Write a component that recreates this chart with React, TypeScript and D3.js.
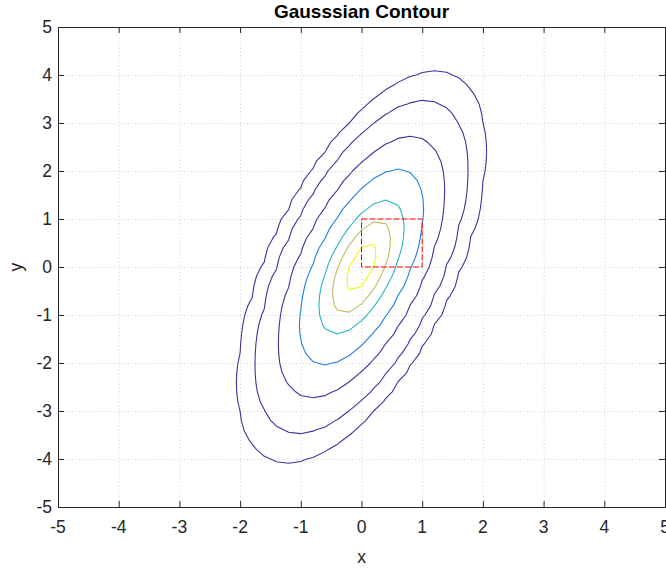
import React from "react";
import * as d3 from "d3";

// Bivariate normal distribution evaluated on a regular grid
const MU = [0, 0];
const SIGMA = [
  [0.25, 0.3],
  [0.3, 1],
];
const GRID_MIN = -5;
const GRID_MAX = 5;
const GRID_STEP = 0.2;

// Contour levels of the density and their line colours
const LEVELS = [0.0001, 0.001, 0.01, 0.05, 0.15, 0.25, 0.35];
const LEVEL_COLORS = ["#3d3399", "#3d3399", "#3d3399", "#1f80e3", "#22b6bb", "#c4bb5f", "#f6f312"];

// Unit square marked on the plot
const RECT_X = [0, 1];
const RECT_Y = [0, 1];

const X_TICKS = [-5, -4, -3, -2, -1, 0, 1, 2, 3, 4, 5];
const Y_TICKS = [-5, -4, -3, -2, -1, 0, 1, 2, 3, 4, 5];

const W = 666;
const H = 569;
const M = { left: 58, right: 665, top: 27, bottom: 507 };
const FONT = "'Liberation Sans', Arial, Helvetica, sans-serif";
const AXIS_COLOR = "#262626";

function mvnpdf(x: number, y: number): number {
  const [[a, b], [c, d]] = SIGMA;
  const det = a * d - b * c;
  const dx = x - MU[0];
  const dy = y - MU[1];
  const q = (d * dx * dx - (b + c) * dx * dy + a * dy * dy) / det;
  return Math.exp(-q / 2) / (2 * Math.PI * Math.sqrt(det));
}

export default function App() {
  const xScale = d3.scaleLinear().domain([-5, 5]).range([M.left, M.right]);
  const yScale = d3.scaleLinear().domain([-5, 5]).range([M.bottom, M.top]);

  const n = Math.round((GRID_MAX - GRID_MIN) / GRID_STEP) + 1;
  const values: number[] = new Array(n * n);
  for (let j = 0; j < n; j++) {
    for (let i = 0; i < n; i++) {
      values[j * n + i] = mvnpdf(GRID_MIN + i * GRID_STEP, GRID_MIN + j * GRID_STEP);
    }
  }
  const contours = d3.contours().size([n, n]).thresholds(LEVELS)(values);

  // grid coordinate c corresponds to sample index c - 0.5
  const toX = (c: number) => GRID_MIN + (c - 0.5) * GRID_STEP;
  const projection = d3.geoTransform({
    point(px: number, py: number) {
      (this as any).stream.point(xScale(toX(px)), yScale(toX(py)));
    },
  });
  const path = d3.geoPath(projection as any);

  const innerW = M.right - M.left;
  const innerH = M.bottom - M.top;
  const tick = 6;

  return (
    <svg
      width={W}
      height={H}
      style={{ position: "absolute", left: 0, top: 0, background: "#fff" }}
      fontFamily={FONT}
    >
      <rect x={0} y={0} width={W} height={H} fill="#fff" />
      {/* grid */}
      <g stroke="#d0d0d0" strokeWidth={1} strokeDasharray="1,2.5">
        {X_TICKS.slice(1, -1).map((t) => (
          <line key={"gx" + t} x1={xScale(t) + 0.5} x2={xScale(t) + 0.5} y1={M.top} y2={M.bottom} />
        ))}
        {Y_TICKS.slice(1, -1).map((t) => (
          <line key={"gy" + t} x1={M.left} x2={M.right} y1={yScale(t) + 0.5} y2={yScale(t) + 0.5} />
        ))}
      </g>

      {/* density contours */}
      <g fill="none" strokeWidth={1.1} strokeLinejoin="round">
        {contours.map((c, k) => (
          <path key={k} d={path(c as any) || ""} stroke={LEVEL_COLORS[k]} />
        ))}
      </g>

      {/* unit square */}
      <rect
        x={xScale(RECT_X[0])}
        y={yScale(RECT_Y[1])}
        width={xScale(RECT_X[1]) - xScale(RECT_X[0])}
        height={yScale(RECT_Y[0]) - yScale(RECT_Y[1])}
        fill="none"
        stroke="#ff0000"
        strokeWidth={1}
        strokeDasharray="6,2"
      />

      {/* axes box */}
      <rect x={M.left + 0.5} y={M.top + 0.5} width={innerW} height={innerH} fill="none" stroke={AXIS_COLOR} strokeWidth={1} />
      <g stroke={AXIS_COLOR} strokeWidth={1}>
        {X_TICKS.map((t) => (
          <g key={"tx" + t}>
            <line x1={xScale(t) + 0.5} x2={xScale(t) + 0.5} y1={M.bottom} y2={M.bottom - tick} />
            <line x1={xScale(t) + 0.5} x2={xScale(t) + 0.5} y1={M.top} y2={M.top + tick} />
          </g>
        ))}
        {Y_TICKS.map((t) => (
          <g key={"ty" + t}>
            <line x1={M.left} x2={M.left + tick} y1={yScale(t) + 0.5} y2={yScale(t) + 0.5} />
            <line x1={M.right} x2={M.right - tick} y1={yScale(t) + 0.5} y2={yScale(t) + 0.5} />
          </g>
        ))}
      </g>

      <g fill={AXIS_COLOR} fontSize={17.5}>
        {X_TICKS.map((t) => (
          <text key={"lx" + t} x={xScale(t)} y={M.bottom + 26} textAnchor="middle">
            {t}
          </text>
        ))}
        {Y_TICKS.map((t) => (
          <text key={"ly" + t} x={M.left - 6} y={yScale(t) + 6} textAnchor="end">
            {t}
          </text>
        ))}
        <text x={(M.left + M.right) / 2} y={H - 6} textAnchor="middle">
          x
        </text>
        <text transform={`translate(22, ${(M.top + M.bottom) / 2}) rotate(-90)`} textAnchor="middle">
          y
        </text>
      </g>
      <text
        x={(M.left + M.right) / 2}
        y={18}
        textAnchor="middle"
        fontWeight="bold"
        fontSize={19}
        fill="#000"
      >
        Gausssian Contour
      </text>
    </svg>
  );
}
